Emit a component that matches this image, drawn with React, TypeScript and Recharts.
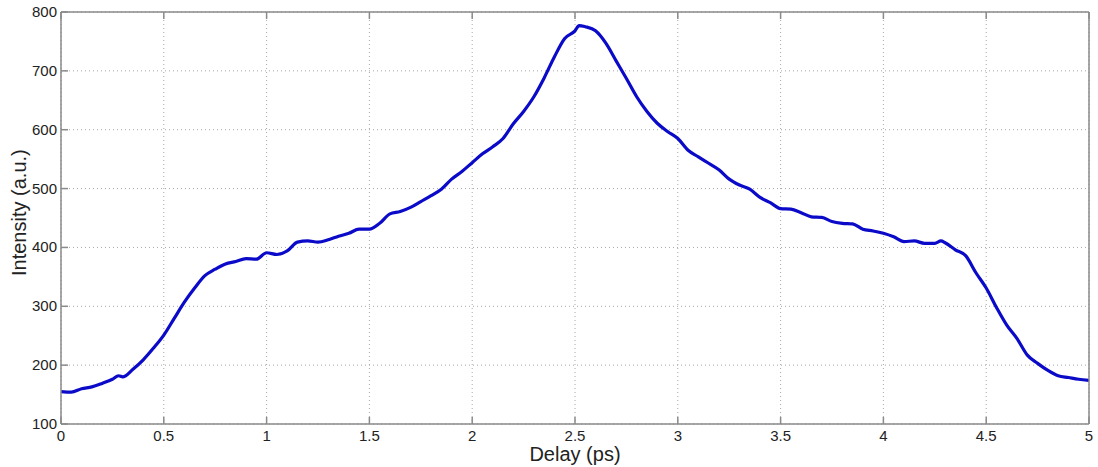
import { LineChart, Line, XAxis, YAxis, CartesianGrid } from 'recharts'

// delay (ps) and measured intensity (a.u.)
const delay = [
    0, 0.05, 0.1, 0.15, 0.2, 0.25, 0.28, 0.3, 0.35, 0.4, 0.45,
    0.5, 0.55, 0.6, 0.65, 0.7, 0.75, 0.8, 0.85, 0.9, 0.95,
    1, 1.05, 1.1, 1.15, 1.2, 1.25, 1.3, 1.35, 1.4, 1.45,
    1.5, 1.55, 1.6, 1.65, 1.7, 1.75, 1.8, 1.85, 1.9, 1.95,
    2, 2.05, 2.1, 2.15, 2.2, 2.25, 2.3, 2.35, 2.4, 2.45,
    2.5, 2.52, 2.55, 2.6, 2.65, 2.7, 2.75, 2.8, 2.85, 2.9, 2.95,
    3, 3.05, 3.1, 3.15, 3.2, 3.25, 3.3, 3.35, 3.4, 3.45,
    3.5, 3.55, 3.6, 3.65, 3.7, 3.75, 3.8, 3.85, 3.9, 3.95,
    4, 4.05, 4.1, 4.15, 4.2, 4.25, 4.28, 4.3, 4.35, 4.4, 4.45,
    4.5, 4.55, 4.6, 4.65, 4.7, 4.75, 4.8, 4.85, 4.9, 4.95, 5,
]

const intensity = [
    155, 154, 160, 163, 169, 176, 182, 180, 193, 209, 229,
    251, 279, 307, 331, 352, 363, 372, 376, 381, 380,
    391, 388, 394, 409, 411, 409, 413, 419, 424, 431,
    431, 441, 457, 461, 468, 478, 488, 499, 516, 529,
    544, 559, 571, 585, 610, 631, 656, 688, 724, 755,
    768, 777, 775, 768, 747, 717, 687, 656, 631, 611, 597,
    585, 565, 554, 543, 532, 516, 506, 499, 485, 476,
    466, 465, 459, 452, 451, 444, 441, 440, 431, 428,
    424, 418, 410, 411, 407, 407, 411, 408, 396, 386, 357,
    331, 298, 268, 245, 217, 203, 191, 182, 179, 176, 174,
]

const xTicks = [0, 0.5, 1, 1.5, 2, 2.5, 3, 3.5, 4, 4.5, 5]
const yTicks = [100, 200, 300, 400, 500, 600, 700, 800]

const data = delay.map((d, i) => ({ delay: d, intensity: intensity[i] }))

const FONT = '"Liberation Sans", Arial, sans-serif'
const AXIS = '#8a8a8a'
const TEXT = '#222'
const TICK_LEN = 7

// MATLAB-style ticks: short marks pointing into the plot box
const BottomTick = ({ x, y, payload }: any) => (
    <g>
        <line x1={x} y1={y} x2={x} y2={y - TICK_LEN} stroke={AXIS} strokeWidth={1.5} />
        <text x={x} y={y + 17} textAnchor="middle" fill={TEXT} fontSize={15} fontFamily={FONT}>
            {payload.value}
        </text>
    </g>
)
const TopTick = ({ x, y }: any) => (
    <line x1={x} y1={y} x2={x} y2={y + TICK_LEN} stroke={AXIS} strokeWidth={1.5} />
)
const LeftTick = ({ x, y, payload }: any) => (
    <g>
        <line x1={x} y1={y} x2={x + TICK_LEN} y2={y} stroke={AXIS} strokeWidth={1.5} />
        <text x={x - 4} y={y + 5} textAnchor="end" fill={TEXT} fontSize={15} fontFamily={FONT}>
            {payload.value}
        </text>
    </g>
)
const RightTick = ({ x, y }: any) => (
    <line x1={x} y1={y} x2={x - TICK_LEN} y2={y} stroke={AXIS} strokeWidth={1.5} />
)

export default function App() {
    return (
        <div style={{ position: 'absolute', left: 0, top: 0, background: '#fff' }}>
            <LineChart
                width={1098}
                height={467}
                data={data}
                margin={{ top: 11, right: 8, bottom: 0, left: 0 }}
            >
                <CartesianGrid
                    xAxisId="bottom"
                    yAxisId="left"
                    stroke="#a8a8a8"
                    strokeDasharray="1 3"
                />
                <XAxis
                    xAxisId="bottom"
                    dataKey="delay"
                    type="number"
                    domain={[0, 5]}
                    ticks={xTicks}
                    interval={0}
                    allowDataOverflow
                    height={43}
                    stroke={AXIS}
                    strokeWidth={1.5}
                    tickLine={false}
                    tickSize={0}
                    tickMargin={0}
                    tick={BottomTick}
                    label={{ value: 'Delay (ps)', position: 'insideBottom', offset: 6, fill: TEXT, fontSize: 20, fontFamily: FONT }}
                />
                <XAxis
                    xAxisId="top"
                    dataKey="delay"
                    type="number"
                    orientation="top"
                    domain={[0, 5]}
                    ticks={xTicks}
                    interval={0}
                    height={1}
                    stroke={AXIS}
                    strokeWidth={1.5}
                    tickLine={false}
                    tickSize={0}
                    tickMargin={0}
                    tick={TopTick}
                />
                <YAxis
                    yAxisId="left"
                    type="number"
                    domain={[100, 800]}
                    ticks={yTicks}
                    interval={0}
                    allowDataOverflow
                    width={61}
                    stroke={AXIS}
                    strokeWidth={1.5}
                    tickLine={false}
                    tickSize={0}
                    tickMargin={0}
                    tick={LeftTick}
                    label={{ value: 'Intensity (a.u.)', angle: -90, position: 'insideLeft', offset: 19, dy: 58, fill: TEXT, fontSize: 20, fontFamily: FONT }}
                />
                <YAxis
                    yAxisId="right"
                    type="number"
                    orientation="right"
                    domain={[100, 800]}
                    ticks={yTicks}
                    interval={0}
                    width={1}
                    stroke={AXIS}
                    strokeWidth={1.5}
                    tickLine={false}
                    tickSize={0}
                    tickMargin={0}
                    tick={RightTick}
                />
                <Line
                    xAxisId="bottom"
                    yAxisId="left"
                    type="monotone"
                    dataKey="intensity"
                    stroke="#0a0ac8"
                    strokeWidth={3.2}
                    dot={false}
                    isAnimationActive={false}
                />
            </LineChart>
        </div>
    )
}
